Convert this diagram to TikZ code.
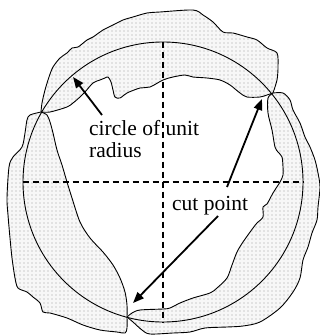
\documentclass[tikz,border=0pt]{standalone}
\usepackage{fontspec}
\setmainfont{Liberation Serif}
\usetikzlibrary{arrows.meta,patterns}
\pgfdeclarepatternformonly{mydots}{\pgfqpoint{-1pt}{-1pt}}{\pgfqpoint{1pt}{1pt}}{\pgfqpoint{4pt}{4pt}}{\pgfpathcircle{\pgfqpoint{0pt}{0pt}}{0.55pt}\pgfusepath{fill}}
\tikzset{
  lobe/.style={draw=black, line width=0.9pt, preaction={fill=black!3}, pattern=mydots, pattern color=black!38},
  axisline/.style={line width=1.5pt, dash pattern=on 6pt off 4pt},
  ptr/.style={line width=1.8pt, -{Triangle[length=11pt,width=8.5pt]}},
  lbl/.style={inner sep=0pt, anchor=base west, font=\fontsize{21.5}{25}\selectfont},
}
\begin{document}
\begin{tikzpicture}[x=1pt, y=-1pt]
\useasboundingbox (0,0) rectangle (320,335);
% cut points
\coordinate (cutL) at (41,112);
\coordinate (cutR) at (273,93);
\coordinate (cutB) at (127,317);
% top lobe
\path[lobe] plot[smooth, tension=0.5] coordinates {(41,112) (42,103) (45,90) (49,77) (53,67) (60,58) (67,53) (72,48) (78,47) (87,40) (93,37) (103,30) (113,25) (123,20) (133,17) (147,13) (160,12) (193,10) (203,15) (213,22) (223,32) (233,33) (247,37) (257,40) (267,48) (277,53) (278,67) (277,80) (273,93)}
  -- plot[smooth, tension=0.5] coordinates {(273,93) (267,95) (260,97) (247,97) (240,93) (230,85) (220,80) (207,78) (193,77) (185,75) (173,77) (163,80) (150,87) (140,88) (127,93) (120,98) (115,97) (113,90) (111,82) (108,77) (105,78) (100,80) (93,83) (85,92) (80,97) (73,103) (67,107) (50,112) (41,112)} -- cycle;
% right lobe
\path[lobe] plot[smooth, tension=0.5] coordinates {(273,93) (283,93) (290,100) (293,110) (300,123) (305,137) (310,147) (315,160) (318,173) (320,187) (318,207) (317,220) (312,233) (308,247) (303,260) (300,278) (293,292) (280,308) (260,322) (243,326) (227,327) (205,328) (190,332) (173,333) (150,334) (142,330) (133,322) (127,317)}
  -- plot[smooth, tension=0.5] coordinates {(127,317) (132,313) (140,310) (163,309) (170,308) (180,303) (193,298) (210,293) (217,288) (227,278) (232,265) (237,252) (243,242) (253,228) (257,223) (263,217) (263,207) (267,204) (273,193) (280,182) (283,175) (283,167) (282,157) (278,152) (275,147) (272,130) (268,113) (268,98) (273,93)} -- cycle;
% left lobe
\path[lobe] plot[smooth, tension=0.5] coordinates {(41,112) (30,115) (27,120) (25,133) (22,147) (13,157) (9,167) (7,198) (8,215) (10,238) (12,258) (15,278) (18,288) (27,292) (33,297) (40,303) (43,312) (50,313) (67,318) (83,325) (100,330) (117,332) (125,333) (127,328) (127,317)}
  -- plot[smooth, tension=0.5] coordinates {(127,317) (127,305) (125,292) (120,278) (113,265) (103,252) (90,238) (80,222) (72,198) (67,182) (62,165) (57,150) (53,133) (50,122) (47,115) (41,112)} -- cycle;
% unit circle
\node[circle, draw, line width=0.9pt, minimum size=280pt, inner sep=0pt] (unitc) at (163,182) {};
% axes
\draw[axisline] (unitc.north) -- (unitc.south);
\draw[axisline] (unitc.west) -- (unitc.east);
% labels
\node[lbl] (lab1) at (89,135) {circle of unit};
\node[lbl] (lab2) at (89,157) {radius};
\node[lbl] (lab3) at (172,210) {cut point};
% arrows
\coordinate (t1) at (102,115);
\coordinate (h1) at (73,77);
\coordinate (t2) at (227,187);
\coordinate (h2) at (262,99);
\coordinate (t3) at (218,216);
\coordinate (h3) at (133,303);
\draw[ptr] (t1) -- (h1);
\draw[ptr] (t2) -- (h2);
\draw[ptr] (t3) -- (h3);
\end{tikzpicture}
\end{document}
